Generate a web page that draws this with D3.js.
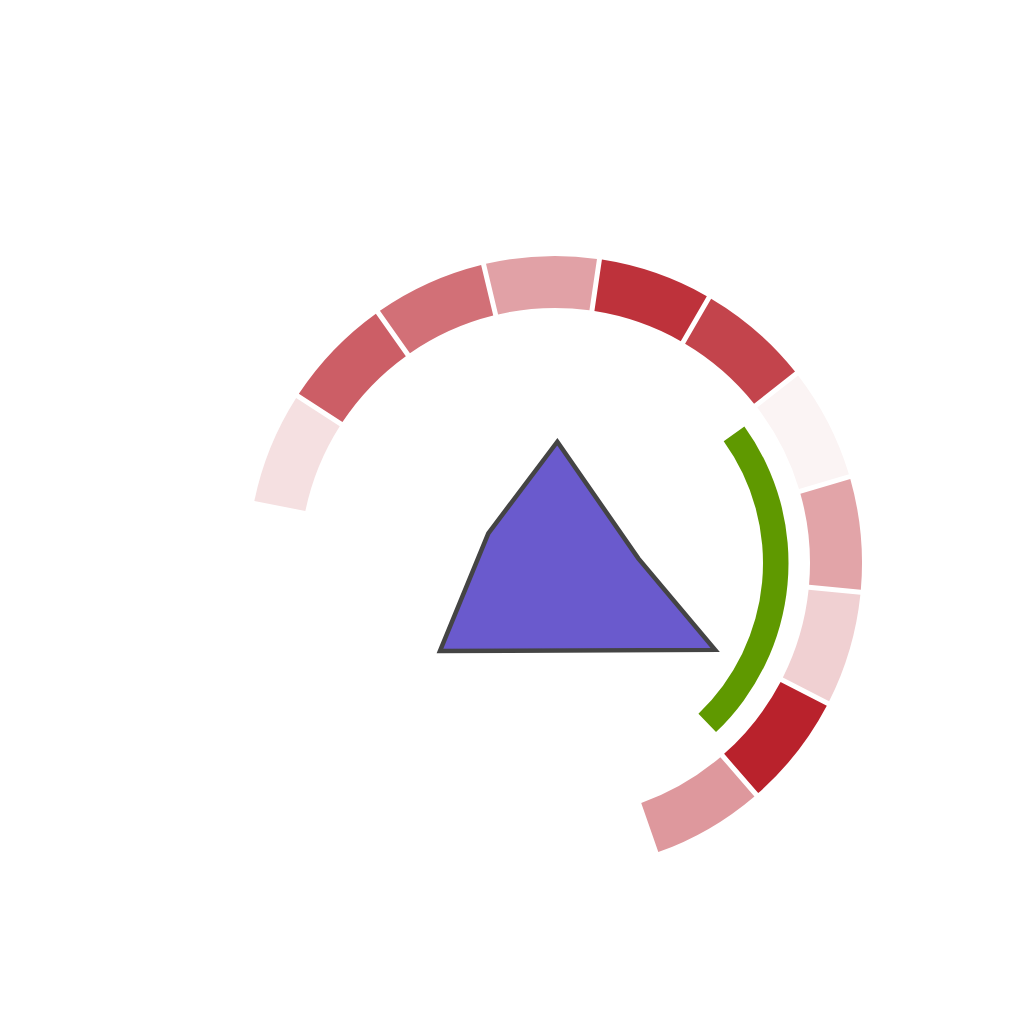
<!DOCTYPE html>
<html><head><meta charset="utf-8">
<script src="https://cdn.jsdelivr.net/npm/d3@7"></script>
<style>html,body{margin:0;padding:0;background:#fff;}svg{display:block;}</style>
</head><body>
<svg id="chart" width="1024" height="1024"></svg>
<script>
// ---- data ----
const categories = ["c1","c2","c3","c4","c5","c6","c7","c8","c9","c10","c11"];
const heatValues = [14, 72, 64, 42, 92, 84, 5, 41, 21, 99, 46];
const ringSpan = [-78.8, 160.8];            // degrees
const gaugeSpan = [54.2, 136.4];            // degrees
const radarAngles = [1.1, 86.8, 118.5, 232.6, 294];   // degrees
const radarValues = [121.3, 83.4, 182.1, 144.8, 73];

// ---- layout ----
const svg = d3.select("#chart");
const cx = 555, cy = 563;
const g = svg.append("g").attr("transform", `translate(${cx},${cy})`);
const deg = d3.scaleLinear().domain([0, 360]).range([0, 2 * Math.PI]);

const band = d3.scaleBand().domain(categories).range(ringSpan.map(deg)).padding(0);
const color = d3.scaleLinear().domain([0, 100]).range(["#ffffff", "#b8202a"]);

const ringArc = d3.arc().innerRadius(255).outerRadius(307).padRadius(100).padAngle(0.05);
g.selectAll("path.seg").data(categories).join("path")
  .attr("class", "seg")
  .attr("d", (c) => ringArc({ startAngle: band(c), endAngle: band(c) + band.bandwidth() }))
  .attr("fill", (c, i) => color(heatValues[i]));

const gaugeArc = d3.arc().innerRadius(208).outerRadius(233.5);
g.append("path")
  .attr("d", gaugeArc({ startAngle: deg(gaugeSpan[0]), endAngle: deg(gaugeSpan[1]) }))
  .attr("fill", "#5f9900");

const r = d3.scaleLinear().domain([0, 100]).range([0, 100]);
const radial = d3.lineRadial().angle((d, i) => deg(radarAngles[i])).radius((d) => r(d)).curve(d3.curveLinearClosed);
g.append("path")
  .attr("d", radial(radarValues))
  .attr("fill", "#6a5acd")
  .attr("stroke", "#444444")
  .attr("stroke-width", 4.5)
  .attr("stroke-linejoin", "miter");
</script>
</body></html>
